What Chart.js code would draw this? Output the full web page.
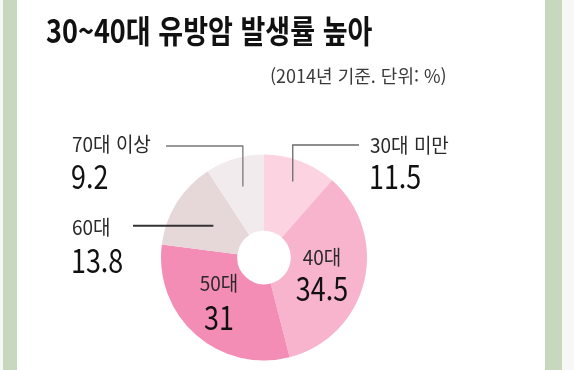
<!DOCTYPE html>
<html lang="ko">
<head>
<meta charset="utf-8">
<title>30~40대 유방암 발생률 높아</title>
<script src="https://cdn.jsdelivr.net/npm/chart.js@4/dist/chart.umd.min.js"></script>
<style>
  html, body { margin: 0; padding: 0; }
  body {
    width: 574px; height: 370px; overflow: hidden; position: relative;
    background: #f7f7f7;
    font-family: 'Noto Sans CJK KR', 'Noto Sans', sans-serif;
  }
  .strip { position: absolute; top: 0; height: 370px; background: #c7d8bf; }
  .panel { position: absolute; left: 17px; top: 0; width: 528px; height: 370px; background: #fff; }
  #wrap { position: absolute; left: 0; top: 0; width: 574px; height: 370px; }
  .t { position: absolute; line-height: 1; white-space: nowrap; transform-origin: left top; }
  .title { left: 46px; top: 13px; font-size: 32px; font-weight: 700; color: #111; transform: scaleX(0.845); }
  .sub { left: 270px; top: 66px; font-size: 18px; color: #3a3a3a; transform: scaleX(1.0); }
  .cat { font-size: 20px; color: #2a2a2a; transform: scaleX(0.95); }
  .num { font-size: 32px; color: #111; transform: scaleX(0.84); }
  .mid { transform-origin: center top; }
  .mid.cat { transform: translateX(-50%) scaleX(0.95); }
  .mid.num { transform: translateX(-50%) scaleX(0.84); }
</style>
</head>
<body>
<div class="strip" style="left:3px;width:14px"></div>
<div class="strip" style="left:545px;width:17px"></div>
<div class="panel"></div>
<div id="wrap"><canvas id="pie" width="574" height="370"></canvas></div>

<div class="t title" id="title"></div>
<div class="t sub" id="sub"></div>
<div id="labels"></div>

<script>
// ── Data ──────────────────────────────────────────────────────────────────────
const TITLE    = '30~40대 유방암 발생률 높아';
const SUBTITLE = '(2014년 기준. 단위: %)';
const groups   = ['30대 미만', '40대', '50대', '60대', '70대 이상'];
const shares   = [11.5, 34.5, 31, 13.8, 9.2];
const colors   = ['#fcd4e1', '#f8b3cd', '#f38db5', '#e6d7d9', '#f2ebed'];

// label placement (layout only): left/top of the text block, centered or not
const labelPos = [
  { x: 370, y: 135, numY: 159, center: false },
  { x: 322, y: 247, numY: 271, center: true },
  { x: 219, y: 273, numY: 300, center: true },
  { x: 72,  y: 217, numY: 243, center: false },
  { x: 72,  y: 134, numY: 159, center: false },
];

// leader lines: from text (x,y) across to the slice, then down into it
const leaders = [
  { i: 0, fromX: 359, y: 145, r: 0.79, color: '#6a6a6a', w: 1.3 },
  { i: 4, fromX: 166, y: 146, r: 0.72, color: '#7a7a7a', w: 1.3 },
  { i: 3, fromX: 133, y: null, r: 0.58, color: '#333', w: 2 },
];

// ── Helpers ───────────────────────────────────────────────────────────────────
const $ = id => document.getElementById(id);

function renderTexts() {
  $('title').textContent = TITLE;
  $('sub').textContent = SUBTITLE;
  const box = $('labels');
  groups.forEach((g, i) => {
    const p = labelPos[i];
    const mid = p.center ? ' mid' : '';
    const cat = document.createElement('div');
    cat.className = 't cat' + mid;
    cat.style.left = p.x + 'px';
    cat.style.top = p.y + 'px';
    cat.textContent = g;
    const num = document.createElement('div');
    num.className = 't num' + mid;
    num.style.left = (p.center ? p.x : p.x - 1) + 'px';
    num.style.top = p.numY + 'px';
    num.textContent = String(shares[i]);
    box.appendChild(cat);
    box.appendChild(num);
  });
}

const leaderPlugin = {
  id: 'leaders',
  afterDatasetsDraw(chart) {
    const arcs = chart.getDatasetMeta(0).data;
    const ctx = chart.ctx;
    ctx.save();
    leaders.forEach(l => {
      const a = arcs[l.i];
      const ang = (a.startAngle + a.endAngle) / 2;
      const r = a.outerRadius * l.r;
      const px = a.x + Math.cos(ang) * r;
      const py = a.y + Math.sin(ang) * r;
      const y = l.y === null ? py : l.y;
      ctx.strokeStyle = l.color;
      ctx.lineWidth = l.w;
      ctx.beginPath();
      ctx.moveTo(l.fromX, y);
      ctx.lineTo(px, y);
      ctx.lineTo(px, py);
      ctx.stroke();
    });
    ctx.restore();
  }
};

// ── Chart ─────────────────────────────────────────────────────────────────────
new Chart($('pie'), {
  type: 'doughnut',
  data: {
    labels: groups,
    datasets: [{
      data: shares,
      backgroundColor: colors,
      borderWidth: 0,
      hoverOffset: 0,
    }]
  },
  options: {
    responsive: false,
    animation: false,
    cutout: '26%',
    layout: { padding: { left: 161, right: 207, top: 154, bottom: 9 } },
    plugins: { legend: { display: false }, tooltip: { enabled: false } },
    events: []
  },
  plugins: [leaderPlugin]
});

renderTexts();
</script>
</body>
</html>
